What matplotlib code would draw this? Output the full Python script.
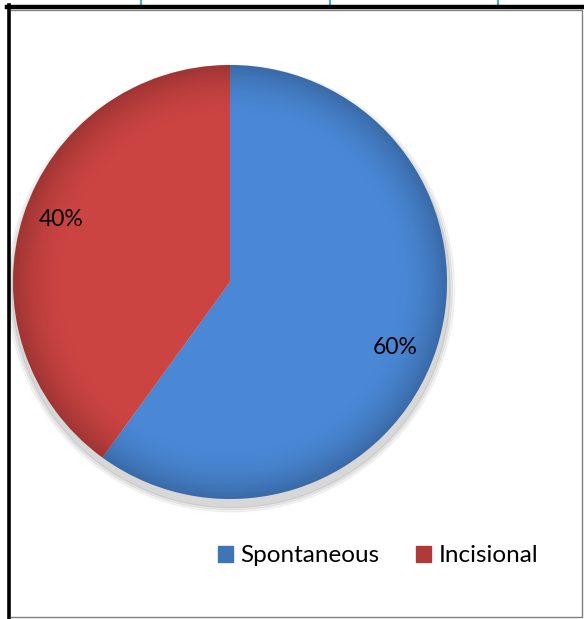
import numpy as np
import matplotlib.pyplot as plt
from matplotlib.patches import Patch, Ellipse, Circle
from matplotlib.lines import Line2D

categories = ["Spontaneous", "Incisional"]
shares = [60, 40]
colors = ["#4A88D6", "#CB4442"]
legend_colors = ["#3F74B5", "#B03A38"]

W, H = 584, 619
fig = plt.figure(figsize=(W / 100, H / 100), dpi=100)
plt.rcParams["font.family"] = ["Lato", "DejaVu Sans"]


def fx(px):
    return px / W


def fy(py):
    return 1 - py / H


# page frame bits (table cell borders around the chart)
for x in [141, 330, 498]:
    fig.add_artist(Line2D([fx(x), fx(x)], [fy(0), fy(5)], color="#4BACC6", lw=1.6))
fig.add_artist(Line2D([fx(7), fx(584)], [fy(7), fy(7)], color="black", lw=3.2))
fig.add_artist(Line2D([fx(8.5), fx(8.5)], [fy(5), fy(619)], color="black", lw=2.6))
fig.add_artist(Line2D([fx(11), fx(582), fx(582), fx(11)],
                      [fy(10), fy(10), fy(617), fy(617)], color="#808080", lw=1.0))

cx, cy, r = 230, 282, 217
ax = fig.add_axes([fx(cx - r), fy(cy + r), 2 * r / W, 2 * r / H])
ax.axis("off")

# soft shadow under the pie
for grow, a in [(0.06, 0.04), (0.04, 0.05), (0.02, 0.07)]:
    sh = Ellipse((0.005, -0.03), 2 + grow, 2 + grow, color="black", alpha=a, zorder=0)
    sh.set_clip_on(False)
    ax.add_patch(sh)

wedges, texts, autotexts = ax.pie(
    shares, colors=colors, startangle=90, counterclock=False,
    autopct="%d%%", pctdistance=0.82, radius=1,
    wedgeprops=dict(edgecolor="none"),
    textprops=dict(fontsize=16.5, color="black"),
)
for w in wedges:
    w.set_clip_on(False)

# darker rim, like the bevel on the original
yy, xx = np.mgrid[-1:1:400j, -1:1:400j]
rr = np.sqrt(xx ** 2 + yy ** 2)
shade = np.zeros((400, 400, 4))
shade[..., 3] = np.clip((rr - 0.75) / 0.25, 0, 1) ** 2 * 0.22
img = ax.imshow(shade, extent=(-1, 1, -1, 1), origin="lower", zorder=1.5)
img.set_clip_path(Circle((0, 0), 1, transform=ax.transData))

# nudge the percentage labels to where the original puts them
autotexts[0].set_position((0.76, -0.30))
autotexts[1].set_position((-0.78, 0.29))
for t in autotexts:
    t.set_zorder(3)

ax.set_xlim(-1, 1)
ax.set_ylim(-1, 1)
ax.set_aspect("equal")

handles = [Patch(facecolor=c, edgecolor=c) for c in legend_colors]
fig.legend(handles, categories, loc="center", bbox_to_anchor=(fx(378), fy(556)),
           ncol=2, frameon=False, fontsize=17.5, handlelength=0.62, handleheight=0.62,
           handletextpad=0.3, columnspacing=1.5)

fig.savefig("out.png", dpi=100)
